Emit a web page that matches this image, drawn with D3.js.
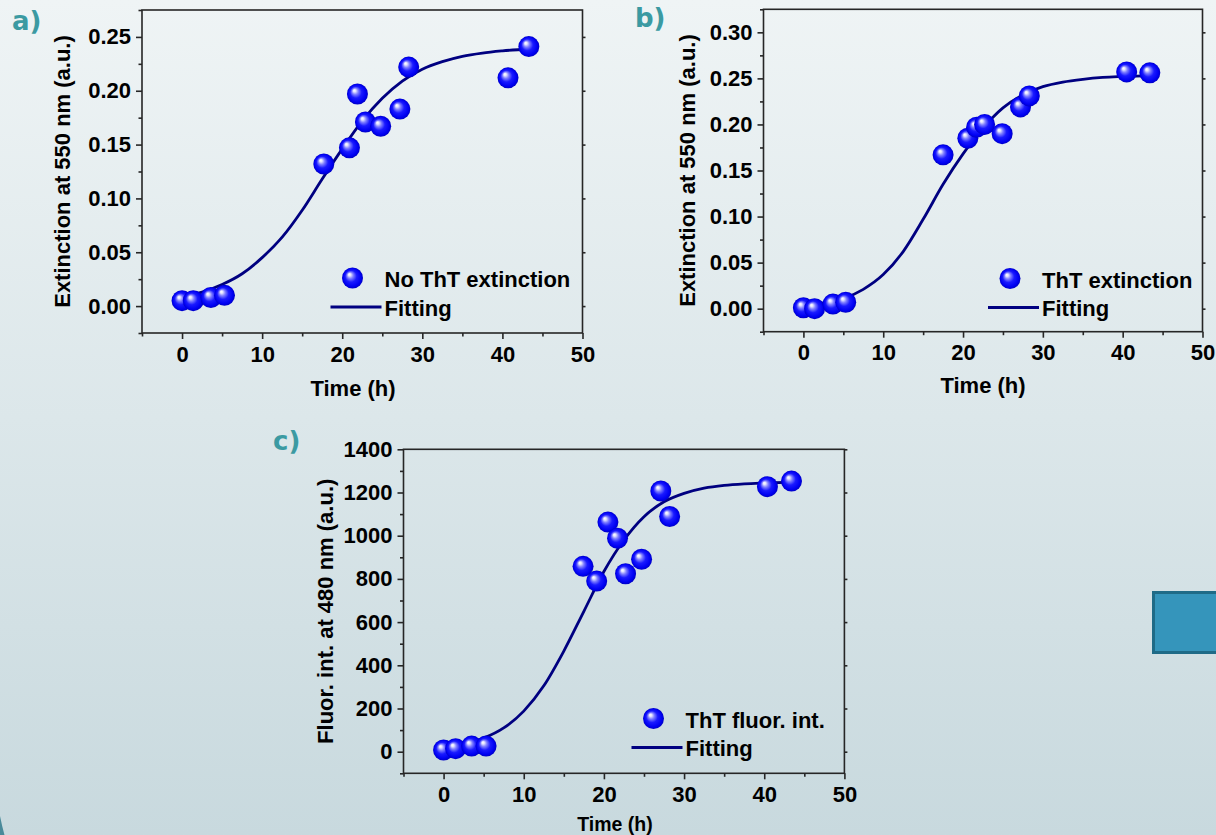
<!DOCTYPE html>
<html>
<head>
<meta charset="utf-8">
<script src="https://cdn.jsdelivr.net/npm/d3@7"></script>
<style>
  body { margin: 0; }
  svg { display: block; }
  text { font-family: "Liberation Sans", Arial, sans-serif; font-weight: bold; }
</style>
</head>
<body>
<svg id="chart" width="1216" height="835"></svg>
<script>
// measured points, time in hours
var timeA = [0, 1.4, 3.6, 5.3, 17.7, 20.9, 21.9, 22.9, 24.8, 27.2, 28.3, 40.7, 43.3];
var extNoTht = [0.005, 0.005, 0.008, 0.010, 0.132, 0.147, 0.197, 0.171, 0.167, 0.183, 0.222, 0.212, 0.241];

var timeB = [0, 1.4, 3.7, 5.3, 17.5, 20.6, 21.7, 22.7, 24.9, 27.2, 28.3, 40.5, 43.4];
var extTht = [0.001, 0.000, 0.005, 0.007, 0.167, 0.185, 0.197, 0.200, 0.190, 0.219, 0.231, 0.257, 0.256];

var timeC = [0, 1.5, 3.5, 5.3, 17.4, 19.1, 20.5, 21.7, 22.7, 24.7, 27.1, 28.2, 40.4, 43.4];
var fluorTht = [8, 14, 26, 26, 858, 790, 1063, 988, 824, 891, 1207, 1089, 1227, 1253];

// fitted curves
var fitTime = [0, 2.5, 5, 7.5, 10, 12.5, 15, 17.5, 20, 22.5, 25, 27.5, 30, 32.5, 35, 37.5, 40, 43.5];
var fitA = [0.009, 0.013, 0.020, 0.030, 0.045, 0.064, 0.089, 0.118, 0.146, 0.172, 0.193, 0.209, 0.220, 0.227, 0.232, 0.235, 0.237, 0.239];
var fitB = [0.004, 0.006, 0.011, 0.021, 0.037, 0.062, 0.097, 0.135, 0.168, 0.196, 0.218, 0.232, 0.241, 0.246, 0.249, 0.251, 0.252, 0.253];
var fitC = [20, 36, 63, 110, 188, 305, 466, 650, 834, 980, 1088, 1157, 1196, 1220, 1233, 1240, 1244, 1248];

// ticks
var xMajor = [0, 10, 20, 30, 40, 50];
var xMinor = [-5, 5, 15, 25, 35, 45];
var yMajorA = [0, 0.05, 0.10, 0.15, 0.20, 0.25];
var yMinorA = [-0.025, 0.025, 0.075, 0.125, 0.175, 0.225, 0.275];
var yMajorB = [0, 0.05, 0.10, 0.15, 0.20, 0.25, 0.30];
var yMinorB = [-0.025, 0.025, 0.075, 0.125, 0.175, 0.225, 0.275, 0.325];
var yMajorC = [0, 200, 400, 600, 800, 1000, 1200, 1400];
var yMinorC = [-100, 100, 300, 500, 700, 900, 1100, 1300];

var svg = d3.select("#chart");
var defs = svg.append("defs");

var bg = defs.append("linearGradient").attr("id", "bg")
    .attr("x1", 0).attr("y1", 0).attr("x2", 0).attr("y2", 1);
bg.append("stop").attr("offset", "0%").attr("stop-color", "#eff4f5");
bg.append("stop").attr("offset", "50%").attr("stop-color", "#dce7ea");
bg.append("stop").attr("offset", "100%").attr("stop-color", "#c8d9de");

var ball = defs.append("radialGradient").attr("id", "ball")
    .attr("cx", "50%").attr("cy", "50%").attr("r", "50%")
    .attr("fx", "34%").attr("fy", "32%");
ball.append("stop").attr("offset", "0%").attr("stop-color", "#ffffff");
ball.append("stop").attr("offset", "12%").attr("stop-color", "#e6e6ff");
ball.append("stop").attr("offset", "30%").attr("stop-color", "#8080ff");
ball.append("stop").attr("offset", "55%").attr("stop-color", "#1a1aff");
ball.append("stop").attr("offset", "85%").attr("stop-color", "#0000f2");
ball.append("stop").attr("offset", "100%").attr("stop-color", "#0000c4");

svg.append("rect").attr("width", 1216).attr("height", 835).attr("fill", "url(#bg)");

// slide decorations
svg.append("rect").attr("x", 1153.5).attr("y", 592.5).attr("width", 70).attr("height", 60)
    .attr("fill", "#3595bb").attr("stroke", "#1f6b87").attr("stroke-width", 3);
svg.append("path").attr("d", "M0,816 Q2,826 4.5,835 L0,835 Z").attr("fill", "#4a8a9a");

function panel(o) {
  var g = svg.append("g");
  var x = d3.scaleLinear().domain([-5, 50]).range([o.left, o.right]);
  var y = d3.scaleLinear().domain(o.yDomain).range([o.bottom, o.top]);

  // frame
  g.append("rect")
      .attr("x", o.left).attr("y", o.top)
      .attr("width", o.right - o.left).attr("height", o.bottom - o.top)
      .attr("fill", "none").attr("stroke", "#262626").attr("stroke-width", 1.6);

  var tickStyle = function(sel) {
    sel.select(".domain").remove();
    sel.selectAll("line").attr("stroke", "#262626").attr("stroke-width", 1.6);
  };

  g.append("g").attr("transform", "translate(0," + o.bottom + ")")
      .call(d3.axisBottom(x).tickValues(xMajor).tickSize(6).tickPadding(7).tickFormat(d3.format("d")))
      .call(tickStyle)
      .call(s => s.selectAll("text").attr("font-size", 22).attr("fill", "#000"));
  g.append("g").attr("transform", "translate(0," + o.bottom + ")")
      .call(d3.axisBottom(x).tickValues(xMinor).tickSize(3.5).tickFormat(""))
      .call(tickStyle);

  g.append("g").attr("transform", "translate(" + o.left + ",0)")
      .call(d3.axisLeft(y).tickValues(o.yMajor).tickSize(6).tickPadding(5).tickFormat(o.fmt))
      .call(tickStyle)
      .call(s => s.selectAll("text").attr("font-size", 22).attr("fill", "#000"));
  g.append("g").attr("transform", "translate(" + o.left + ",0)")
      .call(d3.axisLeft(y).tickValues(o.yMinor).tickSize(3.5).tickFormat(""))
      .call(tickStyle);

  g.append("g").attr("transform", "translate(" + o.right + ",0)")
      .call(d3.axisRight(y).tickValues(o.yMajor).tickSize(3).tickFormat(""))
      .call(tickStyle);

  // axis titles
  g.append("text")
      .attr("transform", "translate(" + (o.left - o.yTitleOff) + "," + ((o.top + o.bottom) / 2) + ") rotate(-90)")
      .attr("text-anchor", "middle").attr("dy", "0.36em")
      .attr("font-size", 22).attr("fill", "#000")
      .text(o.yTitle);
  g.append("text")
      .attr("x", o.xTitleX).attr("y", o.bottom + o.xTitleOff)
      .attr("text-anchor", "middle")
      .attr("font-size", o.xTitleSize).attr("fill", "#000")
      .text("Time (h)");

  // fitted curve
  var line = d3.line()
      .x((d, i) => x(fitTime[i]))
      .y(d => y(d))
      .curve(d3.curveMonotoneX);
  g.append("path").datum(o.fit)
      .attr("d", line)
      .attr("fill", "none").attr("stroke", "#000080").attr("stroke-width", 2.8);

  // spheres
  g.append("g").selectAll("circle")
    .data(o.values)
    .join("circle")
      .attr("cx", (d, i) => x(o.times[i]))
      .attr("cy", d => y(d))
      .attr("r", 10.5)
      .attr("fill", "url(#ball)");

  // legend
  var lx = o.legX, ly = o.legY;
  g.append("circle").attr("cx", lx - 32).attr("cy", ly - 9).attr("r", 10.5).attr("fill", "url(#ball)");
  g.append("text").attr("x", lx).attr("y", ly).attr("font-size", 22).attr("fill", "#000").text(o.legend);
  g.append("line").attr("x1", lx - 54).attr("x2", lx - 3).attr("y1", ly + 20).attr("y2", ly + 20)
      .attr("stroke", "#000080").attr("stroke-width", 3);
  g.append("text").attr("x", lx).attr("y", ly + 28.5).attr("font-size", 22).attr("fill", "#000").text("Fitting");

  // panel letter
  svg.append("text")
      .attr("x", o.tagX).attr("y", o.tagY)
      .style("font-family", "'DejaVu Sans', sans-serif")
      .attr("font-size", 26).attr("fill", "#3b9aa2")
      .text(o.tag);
}

panel({
  left: 142, right: 582.5, top: 10, bottom: 333,
  yDomain: [-0.025, 0.275], yMajor: yMajorA, yMinor: yMinorA, fmt: d3.format(".2f"),
  times: timeA, values: extNoTht, fit: fitA,
  yTitle: "Extinction at 550 nm (a.u.)", yTitleOff: 80,
  xTitleX: 353, xTitleOff: 63, xTitleSize: 22,
  legend: "No ThT extinction", legX: 384.5, legY: 287,
  tag: "a)", tagX: 12, tagY: 30
});

panel({
  left: 763.5, right: 1202.5, top: 9.3, bottom: 331.7,
  yDomain: [-0.025, 0.325], yMajor: yMajorB, yMinor: yMinorB, fmt: d3.format(".2f"),
  times: timeB, values: extTht, fit: fitB,
  yTitle: "Extinction at 550 nm (a.u.)", yTitleOff: 76.5,
  xTitleX: 983, xTitleOff: 61, xTitleSize: 22,
  legend: "ThT extinction", legX: 1042, legY: 287.5,
  tag: "b)", tagX: 635, tagY: 27
});

panel({
  left: 403.5, right: 844.4, top: 449.3, bottom: 773.3,
  yDomain: [-100, 1400], yMajor: yMajorC, yMinor: yMinorC, fmt: d3.format("d"),
  times: timeC, values: fluorTht, fit: fitC,
  yTitle: "Fluor. int. at 480 nm (a.u.)", yTitleOff: 78.5,
  xTitleX: 615, xTitleOff: 57.5, xTitleSize: 19.5,
  legend: "ThT fluor. int.", legX: 685.5, legY: 727.5,
  tag: "c)", tagX: 273, tagY: 450
});
</script>
</body>
</html>
